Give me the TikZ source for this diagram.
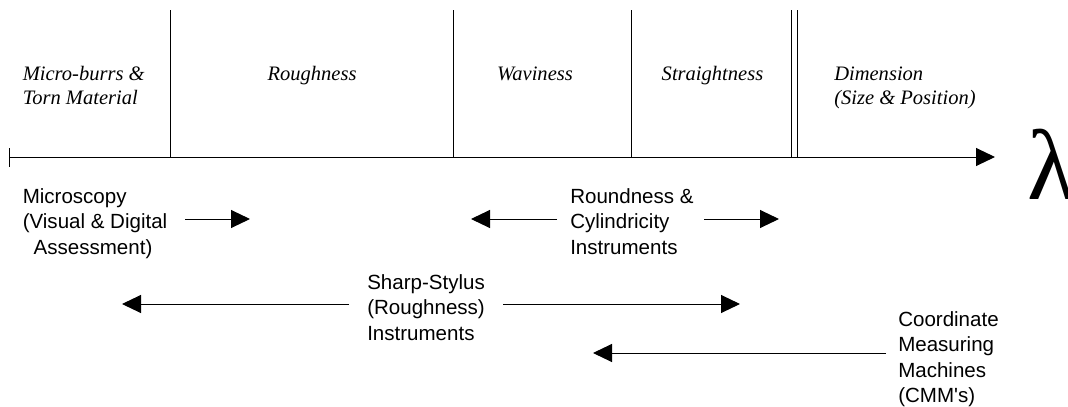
\documentclass[tikz,border=0pt]{standalone}
\usepackage{fontspec}
\setmainfont{Liberation Serif}
\setsansfont{Liberation Sans}
\usetikzlibrary{arrows.meta}
\begin{document}
\begin{tikzpicture}[x=0.75pt,y=-0.75pt,
  line/.style={line width=0.75pt},
  arr/.style={line width=0.75pt,-{Triangle[length=14.25pt,width=13.5pt]}},
  region/.style={font=\fontsize{15.4}{17.8}\selectfont\itshape, inner sep=0pt, align=left, anchor=base west},
  inst/.style={font=\sffamily\fontsize{15.4}{19.1}\selectfont, inner sep=0pt, align=left, anchor=base west}]
\useasboundingbox (0,0) rectangle (1068,407);

% axis
\coordinate (a0) at (9.5,157);
\coordinate (a1) at (995,157);
\coordinate (t0) at (9.5,148);
\coordinate (t1) at (9.5,167);
\draw[line] (t0) -- (t1);
\draw[arr] (a0) -- (a1);

% vertical separators
\foreach \x/\n in {170/v1,453/v2,631/v3,791/v4,797/v5}{
  \coordinate (\n t) at (\x,10);
  \coordinate (\n b) at (\x,157);
  \draw[line] (\n t) -- (\n b);
}

% regions (multi-line nodes: base = last line's baseline)
\node[region] (micro) at (22.5,104) {Micro-burrs \&\\Torn Material};
\node[region,anchor=base] (rough) at (312,80) {Roughness};
\node[region,anchor=base] (wav) at (535,80) {Waviness};
\node[region,anchor=base] (str) at (712.5,80) {Straightness};
\node[region] (dim) at (834,104) {Dimension\\(Size \& Position)};

% lambda
\node[font=\fontsize{75}{75}\selectfont, inner sep=0pt, anchor=base west] (lam) at (1027,199) {λ};

% instruments
\node[inst] (mic) at (22.5,254) {Microscopy\\(Visual \& Digital\\\hspace*{8.2pt}Assessment)};
\node[inst] (rnd) at (570,254) {Roundness \&\\Cylindricity\\Instruments};
\node[inst] (shp) at (367,340) {Sharp-Stylus\\(Roughness)\\Instruments};
\node[inst] (cmm) at (898,402.5) {Coordinate\\Measuring\\Machines\\(CMM\textquotesingle s)};

% arrows
\coordinate (m1) at (185,219);   \coordinate (m2) at (250,219);
\coordinate (r1) at (557,219);   \coordinate (r2) at (471,219);
\coordinate (r3) at (704,219);   \coordinate (r4) at (779,219);
\coordinate (s1) at (349,304);   \coordinate (s2) at (122,304);
\coordinate (s3) at (503,304);   \coordinate (s4) at (740,304);
\coordinate (c1) at (886,353);   \coordinate (c2) at (593,353);
\draw[arr] (m1) -- (m2);
\draw[arr] (r1) -- (r2);
\draw[arr] (r3) -- (r4);
\draw[arr] (s1) -- (s2);
\draw[arr] (s3) -- (s4);
\draw[arr] (c1) -- (c2);
\end{tikzpicture}
\end{document}
